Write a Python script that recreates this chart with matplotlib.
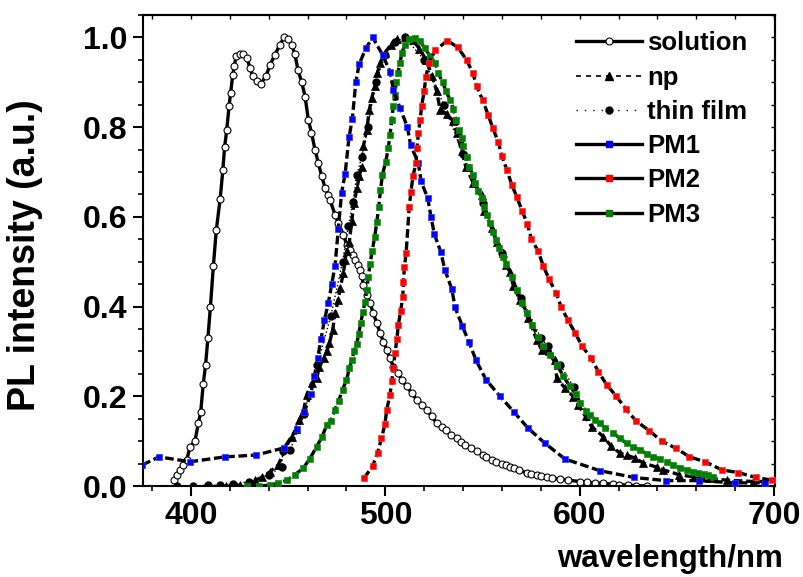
import matplotlib
matplotlib.use("Agg")
import matplotlib.pyplot as plt
from matplotlib.lines import Line2D
from matplotlib.ticker import MultipleLocator

plt.rcParams['font.family'] = ['Liberation Sans', 'DejaVu Sans']
plt.rcParams['font.weight'] = 'bold'

# ---------------- data ----------------
sol_x = [391, 392.6, 394.3, 396, 397.8, 399.5, 402, 403.8, 405, 406.3, 407.5, 408.7, 410, 411.5, 413,
         415, 416.4, 417.3, 418.4, 419.6, 420.4, 421.5, 422.3, 423.2, 425, 427, 428.7, 430.4, 431.8,
         433.8, 435.9, 438.6, 440.7, 443, 445.8, 447.9, 450, 451.8, 453.5, 455, 457, 458.7, 460.4,
         462, 463.8, 465.5, 467.3, 469, 470.7, 471.5, 474.1, 475.8, 478.4, 480.1, 481.8, 483.2, 484.4,
         485.8, 487, 487.9, 488.7, 490.4, 492.1, 493.8, 495.6, 497.3, 499, 500.7, 502.4, 504.1, 506.7,
         508.4, 511, 513.6, 516.2, 518.7, 521.3, 523.9, 526.4, 529, 531, 534, 536.7, 539, 541, 544,
         547, 550, 552, 555, 557, 560, 562, 564, 566, 569, 572.8, 575, 578, 580, 583, 586, 590, 594,
         600, 604, 608, 612, 617, 620, 625, 629, 634.5]
sol_y = [0.013, 0.025, 0.036, 0.047, 0.058, 0.087, 0.10, 0.14, 0.165, 0.228, 0.27, 0.33, 0.40, 0.49, 0.57,
         0.64, 0.705, 0.756, 0.794, 0.848, 0.877, 0.917, 0.937, 0.958, 0.962, 0.962, 0.955, 0.932, 0.913,
         0.902, 0.897, 0.914, 0.939, 0.96, 0.984, 1.0, 0.996, 0.984, 0.962, 0.928, 0.9, 0.868, 0.816,
         0.787, 0.75, 0.72, 0.69, 0.664, 0.649, 0.638, 0.605, 0.586, 0.56, 0.538, 0.526, 0.515, 0.504,
         0.493, 0.482, 0.468, 0.448, 0.426, 0.408, 0.385, 0.363, 0.341, 0.322, 0.303, 0.285, 0.266, 0.251,
         0.236, 0.222, 0.207, 0.192, 0.181, 0.17, 0.155, 0.14, 0.131, 0.124, 0.113, 0.107, 0.099, 0.092, 0.085,
         0.077, 0.07, 0.064, 0.059, 0.054, 0.05, 0.046, 0.043, 0.04, 0.035, 0.029, 0.027, 0.024, 0.023, 0.021,
         0.018, 0.015, 0.013, 0.01, 0.008, 0.007, 0.006, 0.004, 0.003, 0.002, 0.001, 0.0]

np_x = [415, 418, 421.6, 425, 429, 433, 436.4, 440.7, 445, 448.4, 451.8, 453.9, 455.7, 457.8, 459.5,
        462.1, 464.7, 466, 468.4, 469.8, 471.2, 472.9, 474.1, 475.8, 476.7, 478.4, 479.3, 480.1, 481.5,
        482.7, 483.8, 485.5, 486.5, 487.9, 488.7, 490.4, 491.8, 493, 494.7, 495.9, 497.3, 499.8, 502.8,
        505.9, 510.1, 514, 517.5, 521, 524, 526.4, 528.2, 531.5, 535, 536.7, 539.3, 541.4, 545.3, 549.6,
        551, 554.8, 557.3, 560.4, 562.1, 564.2, 565.9, 569.3, 573.6, 577.9, 580.5, 584, 587.3, 588.2,
        592.5, 596.8, 599.3, 603, 606.2, 612.2, 616, 620.8, 624.2, 628.5, 632.8, 639.7, 643.1, 651.3,
        659, 667.1, 675.7, 689.4, 695]
np_y = [0.0, 0.0, 0.0, 0.002, 0.005, 0.013, 0.019, 0.032, 0.047, 0.084, 0.109, 0.126, 0.147, 0.165, 0.203,
        0.229, 0.24, 0.266, 0.285, 0.3, 0.318, 0.348, 0.385, 0.415, 0.441, 0.474, 0.504, 0.523, 0.545,
        0.59, 0.63, 0.665, 0.69, 0.712, 0.757, 0.794, 0.839, 0.865, 0.891, 0.92, 0.943, 0.965, 0.984,
        0.996, 1.0, 0.995, 0.975, 0.95, 0.915, 0.88, 0.839, 0.83, 0.813, 0.787, 0.746, 0.712, 0.675, 0.649,
        0.612, 0.575, 0.545, 0.519, 0.492, 0.478, 0.445, 0.415, 0.374, 0.326, 0.303, 0.3, 0.281, 0.24,
        0.218, 0.199, 0.181, 0.155, 0.132, 0.11, 0.09, 0.073, 0.069, 0.062, 0.051, 0.042, 0.036, 0.025,
        0.02, 0.017, 0.013, 0.01, 0.01]

film_x = [393, 401, 409, 415, 421.6, 430, 440, 446.7, 447.2, 451, 458, 465, 472, 478, 481, 483.4,
          485.3, 487.9, 491, 495, 500, 505, 510, 520, 530, 540, 550, 560, 570, 580, 583.9, 590, 597]
film_y = [0.0, 0.0, 0.002, 0.002, 0.004, 0.01, 0.025, 0.042, 0.077, 0.08, 0.16, 0.27, 0.38, 0.5, 0.58,
          0.634, 0.694, 0.734, 0.8, 0.9, 0.96, 0.99, 1.0, 0.95, 0.85, 0.74, 0.63, 0.52, 0.42, 0.33,
          0.311, 0.27, 0.22]

pm1_x = [375, 383.5, 399.5, 417.5, 433.5, 447.9, 454.4, 458.2, 461.6, 463.5, 465.2, 466.9, 468.6,
         470.7, 472.4, 474.1, 475.8, 477.5, 479.3, 481.3, 483, 484.8, 486.5, 490, 493.5, 498.6, 502.4,
         504.1, 507.6, 511.3, 513, 517, 518.4, 521.8, 523.5, 525.2, 528.5, 530.7, 534.2, 535.9, 539.6,
         543.1, 546.7, 551.8, 559, 566, 573.4, 582.2, 592.5, 610.5, 628, 644.3, 661.5, 680, 695.4]
pm1_y = [0.047, 0.065, 0.054, 0.065, 0.069, 0.085, 0.127, 0.164, 0.205, 0.245, 0.286, 0.327, 0.369,
         0.409, 0.45, 0.49, 0.573, 0.654, 0.696, 0.777, 0.818, 0.9, 0.94, 0.976, 1.0, 0.961, 0.924,
         0.883, 0.842, 0.801, 0.76, 0.72, 0.679, 0.642, 0.6, 0.562, 0.522, 0.481, 0.439, 0.398, 0.357,
         0.32, 0.28, 0.237, 0.2, 0.166, 0.129, 0.095, 0.06, 0.034, 0.019, 0.012, 0.012, 0.007, 0.007]

pm2_x = [489, 493.5, 496, 498, 499.8, 500.7, 502.4, 503.3, 504.1, 505, 505.9, 506.7, 507.9, 509,
         509.3, 509.8, 510.7, 512.3, 513.2, 514.2, 515.8, 516.3, 517, 517.9, 518.7, 520, 520.8, 522.5,
         525.6, 531.9, 537.3, 541.9, 545, 547, 550.1, 553, 555.3, 558.2, 559.9, 562.5, 565.1, 567.6,
         570.5, 573.1, 575.2, 578.7, 581.3, 584.3, 587.9, 590.4, 593.9, 597.6, 601.2, 605.9, 609.6,
         613.8, 618.9, 623.9, 629, 635.9, 642.2, 649.6, 656.5, 664.5, 673.1, 681.4, 690.8, 698.9]
pm2_y = [0.017, 0.045, 0.074, 0.106, 0.138, 0.17, 0.203, 0.233, 0.263, 0.296, 0.327, 0.359, 0.391, 0.422,
         0.454, 0.488, 0.519, 0.623, 0.656, 0.69, 0.72, 0.753, 0.787, 0.816, 0.848, 0.88, 0.911, 0.943,
         0.971, 0.993, 0.978, 0.949, 0.921, 0.891, 0.86, 0.826, 0.798, 0.766, 0.736, 0.705, 0.671, 0.645,
         0.612, 0.584, 0.55, 0.523, 0.49, 0.461, 0.43, 0.4, 0.37, 0.342, 0.312, 0.285, 0.255,
         0.226, 0.2, 0.171, 0.145, 0.123, 0.1, 0.084, 0.065, 0.054, 0.036, 0.03, 0.019, 0.013]

pm3_x = [428.7, 435, 440.7, 445, 449.3, 453.5, 457.8, 461, 464.7, 467.5, 469.8, 472, 474, 476, 478, 480,
         481.5, 482.7, 483.9, 485.3, 486.3, 487.3, 488.4, 489.6, 490.4, 491.3, 492.1, 493.3, 494.5,
         495.6, 496.6, 497.5, 498.5, 500.2, 501.5, 502.4, 503.3, 504.1, 505, 505.5, 506.4, 507.6, 508.4,
         510.1, 512.4, 515.3, 517.9, 520.4, 523, 525.6, 527.3, 529.5, 531.2, 533.3, 535, 536.4, 538.1,
         539.3, 540.1, 541.9, 543.2, 545, 546.2, 547.9, 549.6, 551, 552.5, 553.9, 555.3, 556.8, 558.7,
         560.4, 562.3, 565, 567.6, 570.2, 573.1, 575.3, 578.7, 581.3, 584.8, 588.2, 591.6, 595, 598,
         600.2, 603, 605.3, 608, 610.5, 613, 617.3, 620.5, 624.2, 627.5, 631.1, 634.5, 637.9, 641.3,
         644.8, 648, 651.7, 655, 658.5, 661, 664, 666, 668.8]
pm3_y = [0.0, 0.0, 0.002, 0.006, 0.013, 0.025, 0.04, 0.06, 0.088, 0.11, 0.136, 0.145, 0.17, 0.19, 0.215,
         0.236, 0.263, 0.281, 0.3, 0.317, 0.339, 0.363, 0.387, 0.411, 0.437, 0.467, 0.495, 0.525, 0.555,
         0.588, 0.622, 0.659, 0.694, 0.723, 0.753, 0.783, 0.816, 0.848, 0.872, 0.9, 0.92, 0.943, 0.965,
         0.984, 0.996, 0.999, 0.991, 0.976, 0.958, 0.943, 0.92, 0.9, 0.88, 0.861, 0.84, 0.816, 0.794,
         0.775, 0.757, 0.734, 0.712, 0.694, 0.675, 0.657, 0.642, 0.623, 0.605, 0.586, 0.567, 0.549, 0.53,
         0.511, 0.496, 0.467, 0.437, 0.408, 0.385, 0.359, 0.333, 0.311, 0.292, 0.27, 0.245, 0.222, 0.205,
         0.185, 0.168, 0.158, 0.148, 0.14, 0.13, 0.118, 0.107, 0.095, 0.087, 0.08, 0.072, 0.065, 0.06,
         0.054, 0.047, 0.04, 0.036, 0.032, 0.029, 0.026, 0.024, 0.021]

xticks = [400, 500, 600, 700]
yticks = [0.0, 0.2, 0.4, 0.6, 0.8, 1.0]
labels = ["solution", "np", "thin film", "PM1", "PM2", "PM3"]

# ---------------- figure ----------------
fig = plt.figure(figsize=(8.04, 5.77), dpi=100)
ax = fig.add_axes([143/804, 91/577, 632/804, 471/577])

lw = 2.4
ms_c = 5.0
ms_s = 4.8
ms_t = 6.0
dash = (2.6, 1.1)
ax.plot(sol_x, sol_y, '-', color='black', lw=lw, marker='o', ms=ms_c,
        mfc='white', mec='black', mew=0.8, zorder=2)
ax.plot(film_x, film_y, ':', color='black', lw=1.0, marker='o', ms=ms_c,
        mfc='black', mec='black', zorder=3)
ax.plot(np_x, np_y, '--', color='black', lw=lw, marker='^', ms=ms_t,
        mfc='black', mec='black', mew=0.5, zorder=3, dashes=dash)
ax.plot(pm3_x, pm3_y, '--', color='black', lw=lw, marker='s', ms=ms_s,
        mfc='#008000', mec='#1a8f1a', mew=0.5, zorder=4, dashes=dash)
ax.plot(pm1_x, pm1_y, '--', color='black', lw=lw, marker='s', ms=ms_s,
        mfc='#0000ff', mec='#3333ff', mew=0.5, zorder=5, dashes=dash)
ax.plot(pm2_x, pm2_y, '--', color='black', lw=lw, marker='s', ms=ms_s,
        mfc='#ff0000', mec='#ff3333', mew=0.5, zorder=6, dashes=dash)

ax.set_xlim(375.3, 700.5)
ax.set_ylim(0, 1.05)
ax.set_xticks(xticks)
ax.set_yticks(yticks)
ax.set_yticklabels([f"{v:.1f}" for v in yticks])
ax.xaxis.set_minor_locator(MultipleLocator(20))
ax.yaxis.set_minor_locator(MultipleLocator(0.05))

for s in ax.spines.values():
    s.set_linewidth(1.5)

ax.tick_params(axis='both', which='major', direction='out', length=7, width=1.5,
               labelsize=23, pad=4)
ax.tick_params(axis='both', which='minor', direction='out', length=3.5, width=1.2)
for lab in ax.get_xticklabels() + ax.get_yticklabels():
    lab.set_fontweight('bold')

# inward ticks on top and right spines
secx = ax.secondary_xaxis('top')
secx.set_xticks([])
secx.xaxis.set_minor_locator(MultipleLocator(20))
secx.tick_params(which='minor', direction='in', length=3, width=1.0)
secx.tick_params(which='major', length=0)
secx.spines['top'].set_linewidth(1.5)
secy = ax.secondary_yaxis('right')
secy.set_yticks([])
secy.yaxis.set_minor_locator(MultipleLocator(0.05))
secy.tick_params(which='minor', direction='in', length=3, width=1.0)
secy.spines['right'].set_linewidth(1.5)

ax.set_ylabel("PL intensity (a.u.)", fontsize=27, fontweight='bold')
ax.yaxis.set_label_coords(-0.158, 0.49)
ax.set_xlabel("wavelength/nm", fontsize=22.5, fontweight='bold', ha='right')
ax.xaxis.set_label_coords(1.013, -0.124)

handles = [
    Line2D([], [], color='black', lw=lw, ls='-', marker='o', ms=ms_c, mfc='white', mec='black', mew=0.8),
    Line2D([], [], color='black', lw=1.2, ls=(0, (3, 3)), marker='^', ms=ms_t, mfc='black', mec='black'),
    Line2D([], [], color='black', lw=1.0, ls=(0, (1, 5)), marker='o', ms=ms_c, mfc='black', mec='black'),
    Line2D([], [], color='black', lw=lw, ls='-', marker='s', ms=ms_s, mfc='#0000ff', mec='#0000ff'),
    Line2D([], [], color='black', lw=lw, ls='-', marker='s', ms=ms_s, mfc='#ff0000', mec='#ff0000'),
    Line2D([], [], color='black', lw=lw, ls='-', marker='s', ms=ms_s, mfc='#008000', mec='#008000'),
]
leg = ax.legend(handles, labels, loc='upper left', bbox_to_anchor=(0.66, 0.998),
                frameon=False, handlelength=2.6, handletextpad=0.18,
                labelspacing=0.40, borderaxespad=0.2, prop={'weight': 'bold', 'size': 18.5})

fig.savefig("out.png", dpi=100)
